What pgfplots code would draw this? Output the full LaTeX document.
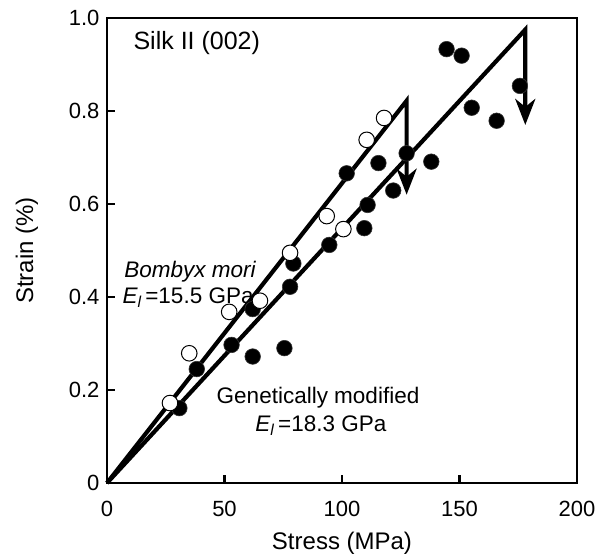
\documentclass[border=0pt]{standalone}
\usepackage{pgfplots}
\pgfplotsset{compat=1.18}
\usepackage{fontspec}
\setmainfont{Liberation Sans}
\usetikzlibrary{arrows.meta}
\begin{document}
\begin{tikzpicture}
\useasboundingbox (-107pt,-75pt) rectangle (491pt,483pt);
\begin{axis}[
  at={(0,0)}, anchor=south west,
  scale only axis, width=470pt, height=465pt,
  xmin=0, xmax=200, ymin=0, ymax=1.0,
  xtick={0,50,100,150,200}, xticklabels={0,50,100,150,200},
  ytick={0,0.2,0.4,0.6,0.8,1.0}, yticklabels={0,0.2,0.4,0.6,0.8,1.0},
  /pgf/number format/assume math mode=true,
  tick align=inside, xtick pos=bottom, ytick pos=left,
  major tick length=8pt,
  tick style={line width=2.2pt, black},
  axis line style={line width=2.2pt, black},
  ticklabel style={font=\fontsize{22}{25}\selectfont},
  yticklabel style={xshift=-4pt},
  xticklabel style={yshift=-15pt},
  xlabel={Stress (MPa)}, ylabel={Strain (\%)},
  label style={font=\fontsize{24}{27}\selectfont},
  xlabel style={yshift=-8pt},
  ylabel style={yshift=24pt},
  clip=false,
]
% fitted lines with drops
\addplot[line width=4.2pt, black, line join=miter, -{Stealth[length=26pt,width=20pt,inset=8pt]}]
  coordinates {(0,0) (127.5,0.822) (127.5,0.62)};
\addplot[line width=4.2pt, black, line join=miter, -{Stealth[length=26pt,width=20pt,inset=8pt]}]
  coordinates {(0,0) (178,0.975) (178,0.77)};
% Genetically modified (filled)
\addplot[only marks, mark=*, mark size=7.8pt, mark options={fill=black, draw=black!80, line width=0.6pt}]
  coordinates {
  (30.8,0.161) (38.2,0.245) (53.0,0.297) (62.0,0.272) (62.0,0.374)
  (75.5,0.290) (77.9,0.422) (79.3,0.472) (94.6,0.512) (102.0,0.666)
  (109.5,0.548) (110.9,0.598) (115.5,0.688) (121.8,0.629) (127.5,0.709)
  (138.0,0.691) (144.5,0.933) (150.9,0.919) (155.2,0.807) (165.8,0.779)
  (175.7,0.854)};
% Bombyx mori (open)
\addplot[only marks, mark=*, mark size=7.8pt, mark options={fill=white, draw=black, line width=1pt}]
  coordinates {
  (26.8,0.172) (35.0,0.279) (52.0,0.368) (65.1,0.392) (77.9,0.495)
  (93.5,0.574) (100.6,0.546) (110.5,0.738) (117.9,0.785)};
\node[anchor=west, font=\fontsize{25}{29}\selectfont] at (axis cs:9.8,0.946) {Silk II (002)};
\node[font=\fontsize{22.5}{26}\selectfont\itshape] at (axis cs:35.3,0.454) {Bombyx mori};
\node[font=\fontsize{22.5}{26}\selectfont] at (axis cs:34.5,0.398) {{\itshape E}\textsubscript{\itshape l}\,=15.5 GPa};
\node[font=\fontsize{22.5}{26}\selectfont] at (axis cs:89.8,0.183) {Genetically modified};
\node[font=\fontsize{22.5}{26}\selectfont] at (axis cs:91,0.124) {{\itshape E}\textsubscript{\itshape l}\,=18.3 GPa};
\end{axis}
\end{tikzpicture}
\end{document}
